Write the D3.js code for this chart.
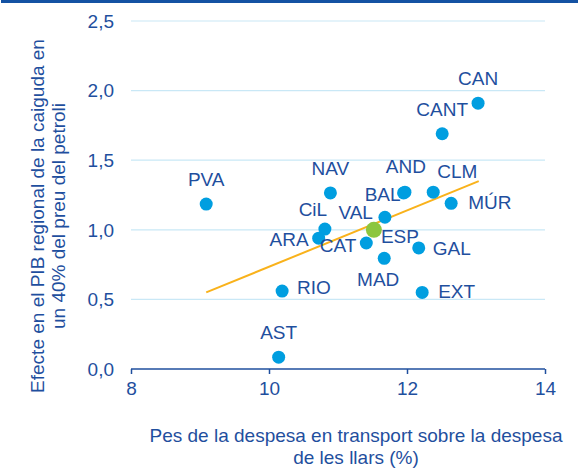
<!doctype html>
<html lang='en'>
<head>
    <meta charset='UTF-8'>
    <title>Transport i PIB regional</title>
    <style>
        html,
        body {
            margin: 0;
            background: #fff;
        }

        svg text {
            font-family: "Liberation Sans", Arial, sans-serif;
            fill: #1f4f9e;
        }
    </style>
</head>
<body>
    <script src='https://d3js.org/d3.v7.min.js'></script>
    <div class='chart'></div>
    <script>
        // Regions: weight of transport in household spending (%) vs GDP effect
        const regions = ['PVA', 'CAN', 'CANT', 'NAV', 'AND', 'BAL', 'CLM', 'MÚR', 'VAL',
            'CiL', 'ARA', 'CAT', 'MAD', 'GAL', 'RIO', 'EXT', 'AST', 'ESP'];
        const transportShare = [9.09, 13.03, 12.51, 10.89, 11.97, 11.95, 12.38, 12.64, 11.68,
            10.81, 10.72, 11.41, 11.67, 12.17, 10.19, 12.22, 10.14, 11.52];
        const gdpEffect = [1.185, 1.91, 1.69, 1.265, 1.27, 1.265, 1.27, 1.19, 1.09,
            1.005, 0.94, 0.905, 0.795, 0.87, 0.56, 0.55, 0.085, 1.0];

        // Fitted trend line, endpoints
        const trendX = [9.09, 13.04];
        const trendY = [0.55, 1.35];

        const xTicks = [8, 10, 12, 14];
        const yTicks = [0, 0.5, 1, 1.5, 2, 2.5];

        const yTitle = ['Efecte en el PIB regional de la caiguda en', 'un 40% del preu del petroli'];
        const xTitle = ['Pes de la despesa en transport sobre la despesa', 'de les llars (%)'];

        const config = {
            width: 582,
            height: 470,
            left: 131,
            right: 545,
            top: 21,
            bottom: 369,
            fontSize: 19,
            dotColor: '#009ee0',
            espColor: '#8cc63f',
            gridColor: '#c9e8f6',
            axisColor: '#1f4f9e',
            trendColor: '#f9b21b',
            dotRadius: 6.5,
            espRadius: 8
        };

        // label placement relative to each dot: [anchor, dx, dy]
        const labelPos = {
            PVA: ['middle', 0, -18], CAN: ['middle', 0, -18], CANT: ['middle', 0, -18],
            NAV: ['middle', 0, -18], AND: ['middle', 1, -19], BAL: ['end', -3, 8],
            CLM: ['middle', 24, -14], 'MÚR': ['start', 17, 6], VAL: ['end', -12, 2],
            CiL: ['middle', -12, -13], ARA: ['end', -10, 8], CAT: ['end', -10, 9],
            MAD: ['middle', -6, 28], GAL: ['start', 14, 7], RIO: ['start', 15, 3],
            EXT: ['start', 16, 6], AST: ['middle', 0, -18], ESP: ['start', 7, 13]
        };

        const svg = d3.select('.chart')
            .append('svg')
            .attr('width', config.width)
            .attr('height', config.height);

        // top rule
        svg.append('rect')
            .attr('x', 1)
            .attr('y', 0)
            .attr('width', 577)
            .attr('height', 3)
            .attr('fill', '#1452a3');

        const x = d3.scaleLinear().domain([8, 14]).range([config.left, config.right]);
        const y = d3.scaleLinear().domain([0, 2.5]).range([config.bottom, config.top]);

        const fmt = (v) => d3.format('.1f')(v).replace('.', ',');

        // gridlines
        svg.append('g')
            .selectAll('line')
            .data(yTicks.filter((d) => d > 0))
            .join('line')
            .attr('x1', config.left)
            .attr('x2', config.right)
            .attr('y1', (d) => y(d))
            .attr('y2', (d) => y(d))
            .attr('stroke', config.gridColor)
            .attr('stroke-width', 1.2);

        // y tick labels
        svg.append('g')
            .selectAll('text')
            .data(yTicks)
            .join('text')
            .attr('x', 114)
            .attr('y', (d) => y(d))
            .attr('dy', '0.36em')
            .attr('text-anchor', 'end')
            .style('font-size', config.fontSize + 'px')
            .text(fmt);

        // x axis
        const xAxis = svg.append('g')
            .attr('transform', 'translate(0,' + config.bottom + ')')
            .call(d3.axisBottom(x).tickValues(xTicks).tickFormat(d3.format('d'))
                .tickSize(5).tickPadding(8));

        xAxis.select('.domain')
            .attr('stroke', config.axisColor)
            .attr('stroke-width', 1.5)
            .attr('d', 'M' + config.left + ',0H' + config.right);
        xAxis.selectAll('.tick line')
            .attr('stroke', config.axisColor)
            .attr('stroke-width', 1.5);
        xAxis.selectAll('.tick text')
            .attr('fill', config.axisColor)
            .style('font-size', config.fontSize + 'px')
            .style('font-family', '"Liberation Sans", Arial, sans-serif');

        // trend line
        svg.append('line')
            .attr('x1', x(trendX[0]))
            .attr('y1', y(trendY[0]))
            .attr('x2', x(trendX[1]))
            .attr('y2', y(trendY[1]))
            .attr('stroke', config.trendColor)
            .attr('stroke-width', 2);

        const points = regions.map((name, i) => ({
            name: name,
            x: transportShare[i],
            y: gdpEffect[i]
        }));

        // dots
        svg.append('g')
            .selectAll('circle')
            .data(points)
            .join('circle')
            .attr('cx', (d) => x(d.x))
            .attr('cy', (d) => y(d.y))
            .attr('r', (d) => d.name == 'ESP' ? config.espRadius : config.dotRadius)
            .attr('fill', (d) => d.name == 'ESP' ? config.espColor : config.dotColor);

        // dot labels
        svg.append('g')
            .selectAll('text')
            .data(points)
            .join('text')
            .attr('x', (d) => x(d.x) + labelPos[d.name][1])
            .attr('y', (d) => y(d.y) + labelPos[d.name][2])
            .attr('text-anchor', (d) => labelPos[d.name][0])
            .style('font-size', config.fontSize + 'px')
            .text((d) => d.name);

        // axis titles
        svg.append('text')
            .attr('transform', 'translate(44,216) rotate(-90)')
            .attr('text-anchor', 'middle')
            .style('font-size', config.fontSize + 'px')
            .selectAll('tspan')
            .data(yTitle)
            .join('tspan')
            .attr('x', 0)
            .attr('y', (d, i) => i * 21)
            .text((d) => d);

        svg.append('text')
            .attr('text-anchor', 'middle')
            .style('font-size', config.fontSize + 'px')
            .selectAll('tspan')
            .data(xTitle)
            .join('tspan')
            .attr('x', 356)
            .attr('y', (d, i) => 442 + i * 22)
            .text((d) => d);
    </script>
</body>
</html>
